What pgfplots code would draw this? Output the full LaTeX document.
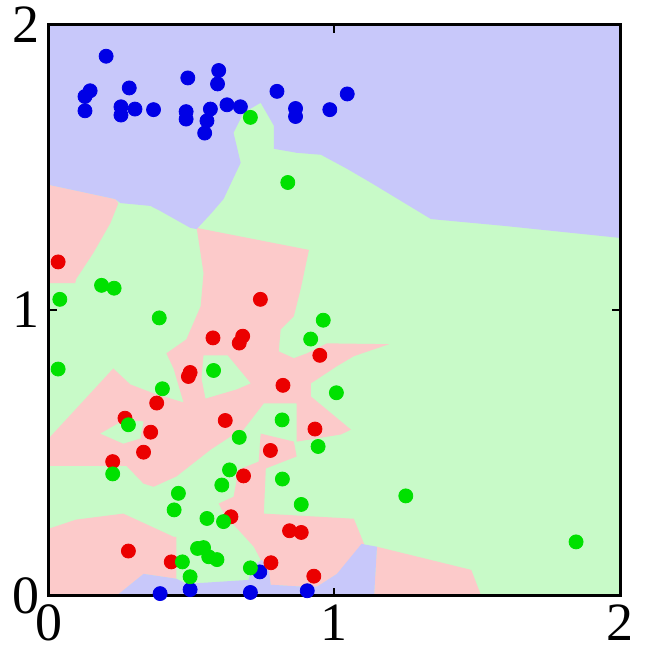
\documentclass[border={3bp 1bp 2bp 0bp}]{standalone}
\usepackage{fontspec}
\setmainfont{Liberation Serif}
\usepackage{pgfplots}
\pgfplotsset{compat=1.18}
\definecolor{bgpink}{RGB}{252,202,202}
\definecolor{bggreen}{RGB}{200,250,200}
\definecolor{bgblue}{RGB}{200,200,250}
\definecolor{ptblue}{RGB}{0,0,230}
\definecolor{ptred}{RGB}{235,0,0}
\definecolor{ptgreen}{RGB}{0,225,0}
\begin{document}
\begin{tikzpicture}
\begin{axis}[
  width=285bp, height=285bp, scale only axis,
  xmin=0, xmax=2, ymin=0, ymax=2,
  xtick={0,1,2}, ytick={0,1,2},
  xticklabels={0,1,2}, yticklabels={0,1,2},
  tick align=inside, major tick length=4bp,
  axis line style={line width=1.5bp},
  every tick/.style={black, line width=1bp},
  tick label style={font=\rmfamily\fontsize{27}{29}\selectfont},
  xticklabel style={yshift=-1bp},
  yticklabel style={xshift=-1bp},
  axis on top,
]
% background (green class)
\addplot[fill=bggreen, draw=none] coordinates {(0,0)(2,0)(2,2)(0,2)};
% pink regions
\addplot[fill=bgpink, draw=none] coordinates {(0,1.439)(0.233,1.389)(0.244,1.375)(0.216,1.305)(0.156,1.2)(0.096,1.109)(0.093,1.095)(0,1.095)};
\addplot[fill=bgpink, draw=none] coordinates {
 (0.518,1.288)(0.911,1.211)(0.882,1.074)(0.858,0.979)(0.812,0.933)(0.805,0.856)(0.858,0.832)(0.904,0.849)
 (0.974,0.884)(1.191,0.881)(1.068,0.839)(1.009,0.804)(0.918,0.744)(0.918,0.698)(1.058,0.582)(1.023,0.565)
 (0.868,0.540)(0.868,0.674)(0.753,0.674)(0.682,0.582)(0.637,0.558)(0.567,0.512)(0.447,0.418)(0.367,0.382)
 (0.332,0.393)(0.272,0.455)(0,0.455)(0,0.551)(0.226,0.796)(0.286,0.740)(0.367,0.709)(0.472,0.677)
 (0.437,0.796)(0.412,0.849)(0.482,0.898)(0.532,1.014)(0.542,1.130)};
\addplot[fill=bgpink, draw=none] coordinates {
 (0.742,0.568)(0.858,0.540)(0.868,0.488)(0.760,0.446)(0.753,0.288)(1.068,0.270)(1.104,0.182)(1.009,0.077)
 (0.939,0.032)(0.893,0.032)(0.777,0.039)(0.770,0.084)(0.746,0.119)(0.718,0.172)(0.654,0.242)(0.619,0.277)
 (0.595,0.323)(0.647,0.347)(0.665,0.442)(0.735,0.470)};
\addplot[fill=bgpink, draw=none] coordinates {(1.149,0.172)(1.479,0.091)(1.514,0)(1.139,0)};
\addplot[fill=bgpink, draw=none] coordinates {(0,0.235)(0.096,0.267)(0.261,0.288)(0.437,0.207)(0.447,0.207)(0.447,0.060)(0.332,0.077)(0.237,0)(0,0)};
% green islands
\addplot[fill=bggreen, draw=none] coordinates {(0.542,0.842)(0.626,0.842)(0.707,0.744)(0.658,0.723)(0.549,0.691)(0.535,0.761)};
\addplot[fill=bggreen, draw=none] coordinates {(0.181,0.568)(0.261,0.614)(0.332,0.611)(0.321,0.551)(0.261,0.533)};
% blue regions
\addplot[fill=bgblue, draw=none] coordinates {
 (0,2)(2,2)(2,1.253)(1.595,1.295)(1.338,1.319)(1.128,1.446)(1.044,1.495)(0.953,1.544)(0.868,1.551)
 (0.788,1.565)(0.788,1.646)(0.742,1.726)(0.682,1.691)(0.647,1.621)(0.672,1.516)(0.612,1.389)(0.570,1.340)
 (0.518,1.284)(0.496,1.288)(0.391,1.347)(0.356,1.365)(0.251,1.375)(0.233,1.389)(0,1.439)};
\addplot[fill=bgblue, draw=none] coordinates {
 (0.237,0)(0.332,0.077)(0.447,0.060)(0.482,0.042)(0.700,0.056)(0.711,0.102)(0.746,0.126)(0.770,0.095)
 (0.777,0.039)(0.893,0.032)(0.939,0.032)(1.009,0.077)(1.095,0.182)(1.149,0.172)(1.139,0)};
% points
\addplot[only marks, mark=*, mark size=3.5bp, mark options={draw=ptblue, fill=ptblue}] coordinates {
 (0.201,1.889)(0.145,1.768)(0.127,1.748)(0.127,1.698)(0.282,1.778)(0.253,1.712)(0.253,1.683)(0.302,1.704)
 (0.367,1.702)(0.487,1.813)(0.481,1.695)(0.481,1.669)(0.566,1.704)(0.554,1.663)(0.546,1.620)(0.595,1.839)
 (0.591,1.792)(0.624,1.719)(0.671,1.712)(0.799,1.766)(0.864,1.706)(0.864,1.678)(0.984,1.702)(1.045,1.757)
 (0.390,0.008)(0.495,0.022)(0.706,0.012)(0.739,0.084)(0.905,0.018)};
\addplot[only marks, mark=*, mark size=3.5bp, mark options={draw=ptred, fill=ptred}] coordinates {
 (0.033,1.169)(0.741,1.038)(0.575,0.903)(0.679,0.909)(0.667,0.885)(0.949,0.842)(0.495,0.782)(0.489,0.768)
 (0.820,0.737)(0.378,0.675)(0.267,0.622)(0.618,0.614)(0.357,0.573)(0.932,0.584)(0.332,0.503)(0.776,0.509)
 (0.224,0.470)(0.682,0.420)(0.638,0.277)(0.843,0.228)(0.884,0.222)(0.279,0.157)(0.429,0.119)(0.778,0.116)
 (0.928,0.069)};
\addplot[only marks, mark=*, mark size=3.5bp, mark options={draw=ptgreen, fill=ptgreen}] coordinates {
 (0.706,1.675)(0.837,1.447)(0.185,1.087)(0.229,1.077)(0.039,1.038)(0.387,0.973)(0.961,0.965)(0.917,0.899)
 (0.033,0.794)(0.577,0.789)(0.398,0.725)(1.007,0.711)(0.279,0.599)(0.817,0.616)(0.667,0.555)(0.943,0.523)
 (0.633,0.441)(0.224,0.427)(0.606,0.388)(0.818,0.409)(0.454,0.359)(0.439,0.301)(0.884,0.320)(0.554,0.271)
 (0.612,0.260)(0.521,0.166)(0.542,0.169)(0.560,0.137)(0.589,0.127)(0.468,0.119)(0.706,0.098)(0.495,0.067)
 (1.250,0.350)(1.846,0.189)};
\end{axis}
\end{tikzpicture}
\end{document}
